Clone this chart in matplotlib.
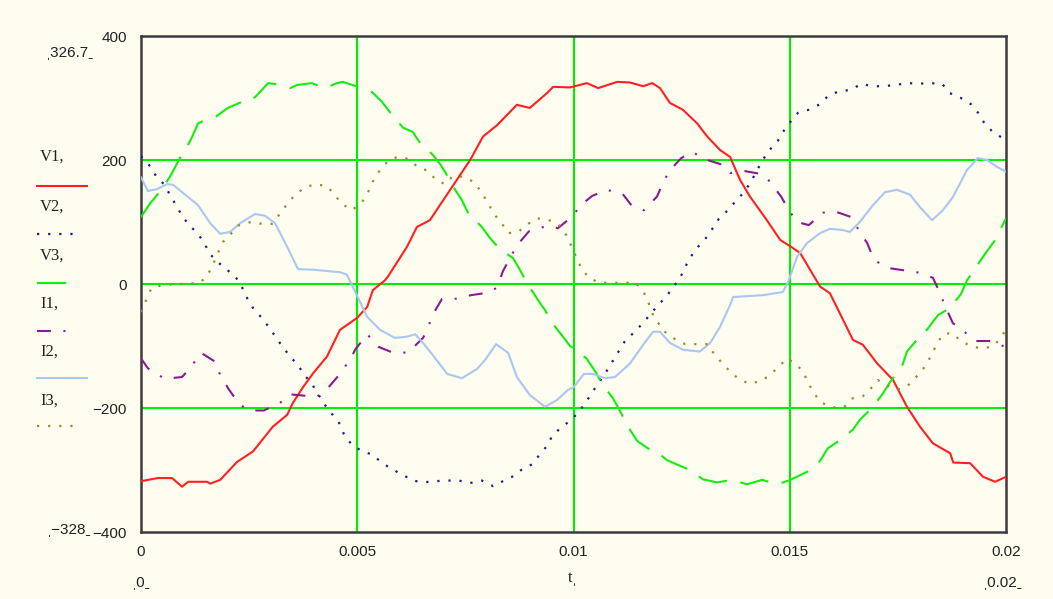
import matplotlib
matplotlib.use("Agg")
import matplotlib.pyplot as plt
from matplotlib.lines import Line2D
import numpy as np

plt.rcParams['lines.scale_dashes'] = False

# time in ms
v1_t = [0, 0.39, 0.72, 0.95, 1.09, 1.53, 1.60, 1.83, 2.22, 2.59, 3.05, 3.38, 3.51, 3.75, 3.98,
        4.30, 4.60, 4.99, 5.23, 5.36, 5.64, 5.71, 6.15, 6.38, 6.68, 7.15, 7.61, 7.91, 8.23, 8.69,
        8.99, 9.39, 9.53, 9.92, 10.31, 10.57, 11.01, 11.31, 11.61, 11.82, 12.00, 12.23, 12.53,
        12.86, 13.09, 13.39, 13.62, 13.85, 14.08, 14.47, 14.78, 15.01, 15.24, 15.70, 15.93, 16.46,
        16.69, 17.02, 17.39, 17.71, 18.01, 18.31, 18.71, 18.78, 19.17, 19.47, 19.75, 20.0]
v1 = [-318, -313, -313, -327, -319, -319, -322, -316, -287, -270, -230, -211, -192, -166, -144,
      -117, -74, -55, -37, -10, 6, 12, 60, 92, 103, 152, 200, 238, 256, 289,
      284, 308, 318, 317, 324, 316, 326, 325, 319, 324, 316, 292, 281,
      259, 238, 216, 205, 168, 141, 103, 71, 61, 50, -4, -15, -90,
      -98, -128, -155, -198, -230, -257, -273, -288, -289, -311, -319, -311]

v2_t = [0, 0.21, 0.35, 0.53, 0.67, 0.81, 0.95, 1.11, 1.32, 1.46, 1.60, 1.78, 1.99, 2.20, 2.34,
        2.47, 2.61, 2.80, 2.96, 3.12, 3.28, 3.45, 3.63, 3.77, 3.95, 4.23, 4.42, 4.60, 4.69, 4.86,
        5.09, 5.34, 5.57, 5.76, 6.03, 6.29, 6.52, 6.80, 7.08, 7.35, 7.61, 7.88, 8.14, 8.37, 8.58,
        8.83, 9.04, 9.23, 9.39, 9.50, 9.73, 9.92, 10.13, 10.31, 10.43, 10.77, 10.91, 11.05, 11.19,
        11.40, 11.58, 11.79, 11.95, 12.14, 12.28, 12.46, 12.58, 12.69, 12.88, 13.06, 13.22, 13.36,
        13.57, 13.73, 13.94, 14.10, 14.20, 14.36, 14.50, 14.71, 14.84, 15.01, 15.19, 15.44, 15.70,
        15.88, 16.14, 16.42, 16.65, 16.90, 17.16, 17.43, 17.73, 17.96, 18.22, 18.52, 18.70, 18.96,
        19.19, 19.38, 19.51, 19.70, 19.93, 20.0]
v2 = [206, 190, 174, 161, 144, 127, 110, 95, 81, 66, 48, 35, 23, 10, -6,
      -25, -41, -55, -70, -86, -102, -117, -131, -146, -161, -193, -210, -226, -242, -258,
      -269, -275, -288, -297, -307, -317, -320, -318, -317, -317, -321, -317, -326, -318, -311,
      -298, -291, -274, -261, -246, -230, -221, -206, -188, -175, -140, -124, -108, -92,
      -78, -65, -48, -34, -21, -7, 9, 27, 42, 60, 74, 90, 105,
      119, 132, 148, 164, 178, 198, 214, 229, 245, 261, 276, 281, 290,
      303, 311, 313, 323, 319, 319, 321, 324, 323, 324, 323, 308, 300,
      290, 274, 258, 245, 235, 232]

v3_t = [0, 0.21, 0.44, 0.67, 0.90, 1.04, 1.18, 1.32, 1.53, 1.69, 2.01, 2.34, 2.52, 2.66, 2.94,
        3.17, 3.45, 3.61, 3.95, 4.25, 4.53, 4.67, 5.02, 5.29, 5.57, 5.80, 6.06, 6.29, 6.34, 6.52,
        6.68, 6.75, 6.91, 7.03, 7.19, 7.42, 7.56, 7.88, 8.07, 8.30, 8.60, 8.76, 8.92, 9.18, 9.34,
        9.53, 9.78, 9.92, 10.10, 10.31, 10.52, 10.68, 10.91, 11.10, 11.26, 11.47, 11.72, 11.95,
        12.16, 12.39, 12.69, 12.99, 13.32, 13.66, 14.01, 14.36, 14.73, 15.01, 15.40, 15.65, 15.88,
        16.16, 16.46, 16.62, 16.90, 17.16, 17.32, 17.60, 17.71, 17.94, 18.17, 18.43, 18.70, 18.96,
        19.10, 19.51, 19.75, 20.0]
v3 = [108, 130, 149, 173, 203, 218, 237, 259, 266, 268, 284, 294, 295, 303, 324,
      322, 316, 321, 324, 316, 324, 326, 318, 313, 294, 273, 252, 245, 239, 221,
      213, 208, 194, 181, 160, 135, 115, 92, 74, 56, 42, 23, 2, -26, -42,
      -65, -87, -100, -108, -121, -143, -163, -184, -208, -230, -253, -265, -272,
      -284, -291, -300, -315, -320, -316, -323, -316, -323, -316, -303, -291, -265,
      -252, -235, -219, -200, -176, -158, -132, -109, -90, -74, -50, -39, -16,
      6, 48, 71, 106]

i1_t = [0, 0.16, 0.55, 0.95, 1.13, 1.39, 1.73, 1.83, 2.03, 2.29, 2.52, 2.84, 3.21, 3.45, 4.07,
        4.32, 4.60, 4.86, 4.95, 5.23, 5.48, 5.76, 6.17, 6.52, 6.61, 6.75, 6.96, 7.26, 7.63, 8.02,
        8.23, 8.37, 8.55, 8.69, 8.97, 9.41, 9.64, 9.92, 10.22, 10.43, 10.77, 11.14, 11.35, 11.63,
        11.93, 12.05, 12.21, 12.49, 12.74, 13.09, 13.46, 13.62, 13.97, 14.38, 14.54, 14.80, 15.01,
        15.17, 15.44, 15.77, 16.09, 16.42, 16.62, 16.79, 16.95, 17.25, 17.55, 17.94, 18.31, 18.43,
        18.59, 18.77, 18.96, 19.31, 19.70, 19.93, 20.0]
i1 = [-120, -136, -153, -150, -136, -111, -126, -147, -170, -195, -204, -204, -192, -178, -182,
      -168, -145, -119, -106, -81, -101, -109, -111, -87, -75, -49, -24, -24, -18, -14,
      -6, 21, 44, 62, 85, 94, 90, 106, 130, 142, 152, 145, 126, 119,
      141, 160, 182, 203, 213, 200, 192, 179, 182, 177, 165, 141, 116,
      100, 95, 115, 116, 108, 84, 66, 39, 26, 23, 19, 10, -8,
      -35, -63, -73, -92, -92, -100, -102]

i2_t = [0, 0.16, 0.37, 0.60, 0.74, 0.97, 1.32, 1.60, 1.83, 2.06, 2.29, 2.64, 2.87, 3.10, 3.38,
        3.63, 3.98, 4.60, 4.76, 4.90, 4.99, 5.23, 5.53, 5.87, 6.15, 6.34, 6.52, 6.75, 7.08, 7.42,
        7.77, 7.95, 8.21, 8.49, 8.69, 8.99, 9.34, 9.62, 9.87, 10.01, 10.24, 10.45, 10.73, 10.96,
        11.31, 11.61, 11.84, 12.00, 12.23, 12.53, 12.92, 13.16, 13.39, 13.62, 13.69, 14.38, 14.84,
        14.96, 15.17, 15.40, 15.70, 15.93, 16.23, 16.39, 16.62, 16.92, 17.20, 17.48, 17.78, 18.01,
        18.29, 18.54, 18.77, 19.10, 19.35, 19.56, 19.79, 20.0]
i2 = [172, 150, 153, 161, 160, 147, 127, 98, 81, 84, 98, 113, 110, 98, 60,
      24, 23, 19, 15, -5, -18, -53, -74, -87, -85, -81, -95, -115, -145, -152,
      -137, -123, -97, -111, -150, -179, -198, -187, -171, -166, -145, -145, -152, -150,
      -128, -98, -77, -77, -95, -106, -109, -95, -69, -34, -21, -18, -13,
      3, 44, 66, 82, 89, 87, 84, 100, 127, 148, 152, 144, 124,
      103, 119, 140, 184, 203, 200, 189, 181]

i3_t = [0, 0.05, 0.14, 0.25, 0.49, 0.79, 1.06, 1.36, 1.53, 1.66, 1.78, 1.90, 2.08, 2.27, 2.54,
        2.80, 3.03, 3.21, 3.38, 3.54, 3.77, 4.02, 4.30, 4.46, 4.65, 4.88, 5.11, 5.25, 5.36, 5.50,
        5.69, 5.92, 6.17, 6.38, 6.64, 6.82, 7.03, 7.21, 7.49, 7.72, 7.88, 8.02, 8.16, 8.35, 8.49,
        8.72, 8.95, 9.16, 9.43, 9.64, 9.83, 9.94, 10.06, 10.17, 10.34, 10.59, 10.89, 11.42, 11.58,
        11.72, 11.79, 11.95, 12.07, 12.30, 12.58, 12.86, 13.11, 13.25, 13.43, 13.62, 13.80, 14.06,
        14.36, 14.57, 14.75, 14.94, 15.12, 15.31, 15.42, 15.56, 15.72, 15.98, 16.25, 16.46, 16.69,
        16.88, 17.04, 17.32, 17.55, 17.76, 17.99, 18.15, 18.27, 18.40, 18.54, 18.75, 18.96, 19.21,
        19.47, 19.72, 19.93, 20.0]
i3 = [-45, -40, -21, -6, -2, 0, 0, 2, 13, 31, 50, 68, 81, 95, 100,
      97, 97, 113, 129, 142, 155, 161, 158, 145, 129, 119, 132, 148, 165, 181,
      197, 205, 202, 190, 182, 168, 161, 174, 173, 163, 147, 131, 113, 97, 82,
      84, 97, 106, 103, 97, 79, 63, 44, 27, 11, 2, 2, 2, -8,
      -26, -44, -62, -75, -87, -97, -97, -97, -113, -127, -141, -152, -161,
      -156, -145, -133, -120, -128, -141, -159, -176, -191, -199, -199, -184, -181,
      -168, -155, -166, -170, -162, -145, -131, -115, -97, -81, -79, -92, -101,
      -104, -100, -81, -74]

x_ticks = [0, 0.005, 0.01, 0.015, 0.02]
x_tick_labels = ["0", "0.005", "0.01", "0.015", "0.02"]
y_ticks = [-400, -200, 0, 200, 400]
y_tick_labels = ["\u2212400", "\u2212200", "0", "200", "400"]
legend_names = ["V1", "V2", "V3", "I1", "I2", "I3"]

BG = '#fffcf0'
W, H = 1053, 599

fig = plt.figure(figsize=(W / 100, H / 100), dpi=100, facecolor=BG)
ax = fig.add_axes([141 / W, 1 - 532 / H, 865 / W, 496 / H], facecolor=BG)

styles = [
    dict(color='#ff2020', lw=1.5, ls='-'),
    dict(color='#1c1c8c', lw=1.6, ls=(0, (1.6, 6.4))),
    dict(color='#10f010', lw=1.5, ls=(0, (21, 10))),
    dict(color='#8a1a90', lw=1.5, ls=(0, (10, 9, 1.5, 9))),
    dict(color='#a8c8f0', lw=1.5, ls='-'),
    dict(color='#9a8a30', lw=1.6, ls=(0, (1.6, 6.4))),
]

for gx in [0.005, 0.01, 0.015]:
    ax.axvline(gx, color='#00ee00', lw=1.5, zorder=1)
for gy in [-200, 0, 200]:
    ax.axhline(gy, color='#00ee00', lw=1.5, zorder=1)

series = [(v1_t, v1), (v2_t, v2), (v3_t, v3), (i1_t, i1), (i2_t, i2), (i3_t, i3)]
for (t, y), st in zip(series, styles):
    ax.plot(np.array(t) * 1e-3, y, zorder=3, **st)

ax.set_xlim(0, 0.02)
ax.set_ylim(-400, 400)
ax.set_xticks(x_ticks)
ax.set_xticklabels(x_tick_labels)
ax.set_yticks(y_ticks)
ax.set_yticklabels(y_tick_labels)
ax.tick_params(length=0, labelsize=11, colors='#222222')
ax.tick_params(axis='y', pad=10)
ax.tick_params(axis='x', pad=9)
for lab in ax.get_xticklabels() + ax.get_yticklabels():
    lab.set_fontfamily('Liberation Sans')
for s in ax.spines.values():
    s.set_color('#3c3c3c')
    s.set_linewidth(1.8)


def fx(x):
    return x / W


def fy(y):
    return 1 - y / H


# legend on the left
label_y = [157, 207, 256, 304, 352, 401]
line_y = [186, 234, 283, 331, 378, 426]
line_x1 = [87, 80, 72, 72, 87, 80]
for name, ly, sy, x1, st in zip(legend_names, label_y, line_y, line_x1, styles):
    fig.text(fx(40), fy(ly), name + ",", fontsize=12, family='Liberation Serif',
             color='#222222', va='center', ha='left')
    fig.add_artist(Line2D([fx(37), fx(x1)], [fy(sy), fy(sy)], transform=fig.transFigure,
                          **st))

tfont = dict(family='Liberation Sans', color='#222222', va='center', ha='center')
fig.text(fx(70), fy(53), "\u02cc326.7\u02cd", fontsize=11, **tfont)
fig.text(fx(69), fy(530), "\u02cc\u2212328\u02cd", fontsize=11, **tfont)
fig.text(fx(141), fy(583), "\u02cc0\u02cd", fontsize=11, **tfont)
fig.text(fx(1003), fy(583), "\u02cc0.02\u02cd", fontsize=11, **tfont)
fig.text(fx(573), fy(578), "t\u02cc", fontsize=12, family='Liberation Serif',
         color='#222222', va='center', ha='center')

fig.savefig("out.png", dpi=100, facecolor=BG)
